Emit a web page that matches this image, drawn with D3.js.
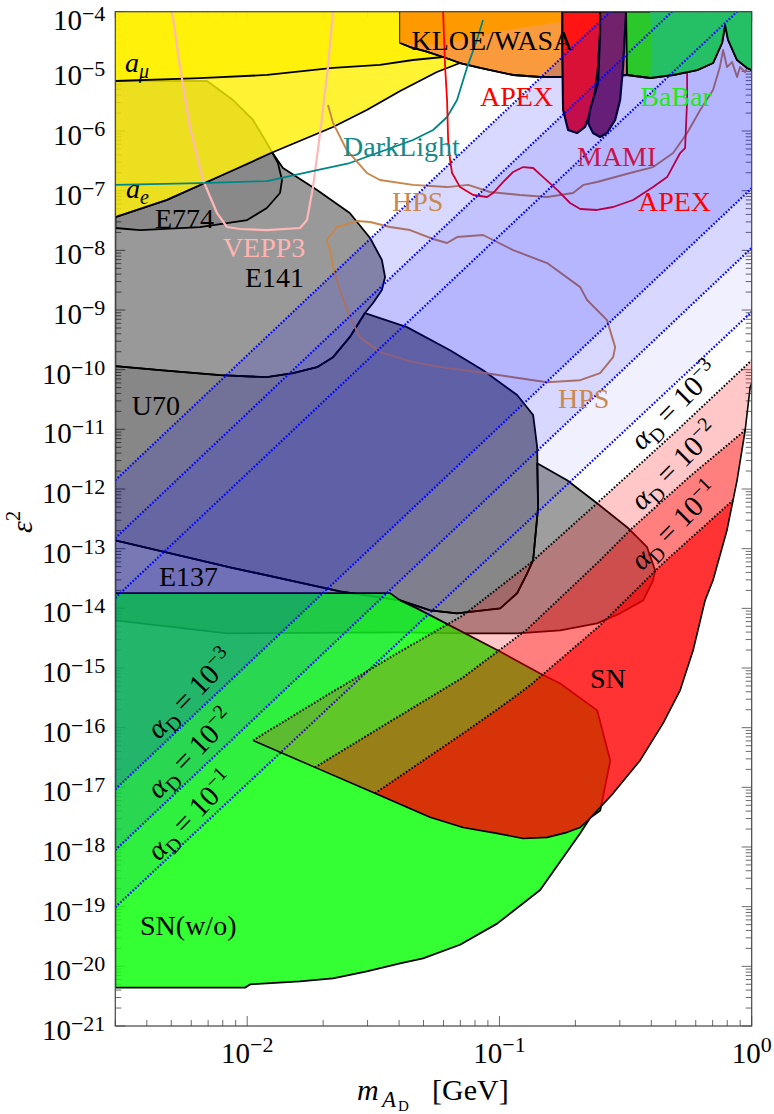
<!DOCTYPE html>
<html>
<head>
<meta charset="utf-8">
<script src="https://cdn.jsdelivr.net/npm/d3@7"></script>
<style>
	body { margin: 0; background: #fff; }
	text { font-family: "Liberation Serif", "Times New Roman", serif; }
</style>
</head>
<body>
<script>
const w = 774;
const h = 1114;
const plot = { left: 115.3, right: 751.7, top: 11.7, bottom: 1026 };

// all points are [m_AD in GeV, epsilon^2]
const amuLine = [[0.003, 6.9e-6], [6.5e-3, 7.7e-6], [0.012, 8.7e-6], [0.0219, 1.14e-5], [0.0336, 1.28e-5], [0.0454, 1.55e-5], [0.0598, 1.74e-5]];
const aeLine = [[0.003, 3.6e-8], [4.8e-3, 7.0e-8], [8.8e-3, 2.2e-7], [0.0127, 4.45e-7], [0.0219, 1.17e-6], [0.0298, 2.25e-6], [0.0404, 4.7e-6], [0.0565, 9.75e-6], [0.0698, 1.38e-5]];

const e141 = [[0.003, 6.9e-6], [6.93e-3, 6.9e-6], [8.79e-3, 3.31e-6], [0.01055, 1.53e-6], [0.01197, 6.3e-7], [0.01253, 4.45e-7], [0.01386, 2.4e-7], [0.01892, 1.03e-7], [0.0255, 4.23e-8], [0.0307, 1.61e-8], [0.0342, 6.88e-9], [0.0352, 3.57e-9], [0.0342, 2.16e-9], [0.03155, 1.31e-9], [0.0293, 8.9e-10], [0.0255, 3.51e-10], [0.0219, 1.62e-10], [0.01892, 1.1e-10], [0.0152, 8.73e-11], [0.01197, 7.48e-11], [7.8e-3, 8.08e-11], [4.51e-3, 9.8e-11], [0.003, 1.15e-10]];
const e774 = [[0.003, 3.62e-8], [4.82e-3, 6.98e-8], [8.79e-3, 2.22e-7], [0.01253, 4.45e-7], [0.01324, 2.91e-7], [0.01374, 1.51e-7], [0.01349, 9.14e-8], [0.01197, 5.13e-8], [0.01, 3.22e-8], [6.5e-3, 2.46e-8], [3.76e-3, 2.19e-8], [0.003, 2.37e-8]];
const u70 = [[0.003, 1.15e-10], [4.51e-3, 9.8e-11], [7.8e-3, 8.08e-11], [0.01197, 7.48e-11], [0.0152, 8.73e-11], [0.01892, 1.1e-10], [0.0219, 1.62e-10], [0.0255, 3.51e-10], [0.0293, 8.9e-10], [0.043, 5.17e-10], [0.0637, 2.12e-10], [0.0861, 9.8e-11], [0.1175, 3.76e-11], [0.136, 1.74e-11], [0.1411, 5.02e-12], [0.1423, 4.94e-13], [0.136, 6.4e-14], [0.1288, 3.87e-14], [0.1175, 1.79e-14], [0.1007, 1.0e-14], [0.0861, 9.27e-15], [0.0679, 8.26e-15], [0.0531, 9.27e-15], [0.0404, 1.36e-14], [0.0233, 1.93e-14], [8.55e-3, 4.88e-14], [0.003, 1.38e-13]];
const e137 = [[0.003, 1.38e-13], [8.55e-3, 4.88e-14], [0.0233, 1.93e-14], [0.0404, 1.36e-14], [0.0531, 9.27e-15], [0.0679, 8.26e-15], [0.0861, 9.27e-15], [0.1007, 1.0e-14], [0.1175, 1.79e-14], [0.1288, 3.87e-14], [0.136, 6.4e-14], [0.1423, 4.94e-13], [0.1411, 2.7e-12], [0.1854, 1.4e-12], [0.2437, 5.77e-13], [0.3206, 2.29e-13], [0.3849, 1.06e-13], [0.414, 4.35e-14], [0.4066, 2.95e-14], [0.3713, 1.36e-14], [0.3009, 8.26e-15], [0.2437, 5.61e-15], [0.1741, 4.28e-15], [0.1175, 3.81e-15], [0.0745, 3.81e-15], [0.0404, 3.96e-15], [8.32e-3, 3.81e-15], [0.003, 6.3e-15]];
const snWithout = [[0.003, 1.8e-14], [0.0368, 1.8e-14], [0.0404, 1.36e-14], [0.0471, 1.0e-14], [0.0979, 2.0e-15], [0.145, 8.1e-16], [0.174, 5.5e-16], [0.244, 1.95e-16], [0.275, 2.8e-17], [0.251, 4.1e-18], [0.229, 3.1e-18], [0.209, 1.7e-18], [0.145, 1.9e-19], [0.0979, 5.2e-20], [0.0698, 2.3e-20], [0.0498, 1.36e-20], [0.0404, 1.12e-20], [0.0298, 8.2e-21], [0.0219, 6.3e-21], [0.0162, 5.6e-21], [0.0103, 5.0e-21], [0.0098, 4.4e-21], [0.003, 4.4e-21]];

const kloe = [[0.0404, 1e-4], [0.0404, 2.99e-5], [0.0442, 2.56e-5], [0.0507, 2.19e-5], [0.0598, 1.74e-5], [0.0698, 1.38e-5], [0.0838, 1.14e-5], [0.1133, 8.69e-6], [0.1449, 8.04e-6], [0.1788, 8.04e-6], [0.2506, 8.04e-6], [0.3206, 8.69e-6], [0.3206, 1e-4]];
const wasa = [[0.0404, 1e-4], [0.0404, 2.99e-5], [0.0598, 2.77e-5], [0.0838, 4.07e-5], [0.1208, 5.33e-5], [0.1741, 6.71e-5], [0.2506, 8.8e-5], [0.2506, 1e-4]];
const apexRegion = [[0.1774, 1e-4], [0.1774, 2.28e-5], [0.1788, 2.25e-6], [0.1871, 1.04e-6], [0.203, 9.26e-7], [0.2185, 1.17e-6], [0.2286, 2.0e-6], [0.239, 4.34e-6], [0.246, 1.18e-5], [0.2506, 4.39e-5], [0.2506, 1e-4]];
const mamiRegion = [[0.2506, 1e-4], [0.2506, 4.39e-5], [0.246, 6.38e-6], [0.2286, 2.25e-6], [0.2245, 1.36e-6], [0.235, 9.26e-7], [0.2506, 7.94e-7], [0.267, 9.26e-7], [0.2875, 1.53e-6], [0.3009, 3.31e-6], [0.309, 1.18e-5], [0.3177, 1e-4]];
const babar = [[0.3177, 1e-4], [0.3206, 8.69e-6], [0.3956, 7.74e-6], [0.4881, 8.69e-6], [0.608, 1.05e-5], [0.7025, 1.38e-5], [0.7632, 2.99e-5], [0.7846, 5.99e-5], [0.806, 3.36e-5], [0.875, 1.55e-5], [0.959, 1.14e-5], [1.0, 1.05e-5], [1.0, 1e-4]];
const babarRight = [[0.3956, 1e-4], [0.403, 2.28e-5], [0.3956, 7.74e-6], [0.4881, 8.69e-6], [0.608, 1.05e-5], [0.7025, 1.38e-5], [0.7632, 2.99e-5], [0.7846, 5.99e-5], [0.806, 3.36e-5], [0.875, 1.55e-5], [0.959, 1.14e-5], [1.0, 1.05e-5], [1.0, 1e-4]];

const vepp3 = [[5.04e-3, 1e-4], [5.42e-3, 1.18e-5], [5.93e-3, 1.17e-6], [6.68e-3, 1.51e-7], [7.59e-3, 4.23e-8], [8.32e-3, 2.46e-8], [9.36e-3, 2.28e-8], [0.01197, 2.19e-8], [0.0162, 2.37e-8], [0.01726, 3.22e-8], [0.01823, 1.15e-7], [0.01945, 9.26e-7], [0.0209, 1.18e-5], [0.0219, 1e-4]];
const darkLight = [[0.003, 1.25e-7], [6.5e-3, 1.34e-7], [0.01197, 1.45e-7], [0.01892, 2.22e-7], [0.0255, 2.91e-7], [0.0336, 4.45e-7], [0.0454, 7.08e-7], [0.0546, 1.04e-6], [0.062, 1.72e-6], [0.0679, 3.31e-6], [0.0745, 1.18e-5], [0.0814, 3.36e-5], [0.0861, 7.26e-5]];
const hpsUpper = [[0.0209, 2.73e-6], [0.0219, 1.36e-6], [0.0248, 4.81e-7], [0.0298, 1.98e-7], [0.0336, 1.51e-7], [0.0454, 1.25e-7], [0.062, 1.15e-7], [0.0752, 1.25e-7], [0.0918, 9.5e-8], [0.1208, 8.47e-8], [0.1545, 7.84e-8], [0.1958, 9.14e-8], [0.215, 1.25e-7], [0.2437, 1.4e-7], [0.3296, 1.98e-7], [0.4066, 2.49e-7], [0.4881, 4.28e-7], [0.5546, 9.26e-7], [0.625, 2.25e-6], [0.7025, 4.87e-6], [0.748, 1.18e-5], [0.7703, 2.28e-5], [0.798, 1.18e-5], [0.836, 1.43e-5], [0.875, 8.04e-6], [0.899, 1.18e-5], [0.942, 9.75e-6], [0.986, 1.43e-5], [1.0, 1.55e-5]];
const hpsLower = [[0.0207, 1.49e-8], [0.0227, 2.46e-8], [0.0272, 3.1e-8], [0.0307, 2.99e-8], [0.0368, 2.46e-8], [0.0442, 2.19e-8], [0.0546, 1.55e-8], [0.062, 1.33e-8], [0.0679, 1.67e-8], [0.0861, 1.81e-8], [0.1133, 1.01e-8], [0.1545, 6.12e-9], [0.209, 2.42e-9], [0.2225, 1.47e-9], [0.267, 6.77e-10], [0.2875, 2.39e-10], [0.2823, 1.62e-10], [0.2506, 8.73e-11], [0.209, 6.66e-11], [0.1545, 6.17e-11], [0.1133, 7.48e-11], [0.0838, 9.08e-11], [0.062, 1.06e-10], [0.0454, 1.34e-10], [0.0336, 1.97e-10], [0.028, 3.51e-10], [0.0255, 7.6e-10], [0.0233, 2.16e-9], [0.0219, 5.25e-9], [0.0213, 1.01e-8], [0.0207, 1.49e-8]];
const apexLine = [[0.0598, 1e-4], [0.0609, 1.18e-5], [0.062, 3.31e-6], [0.0626, 7.08e-7], [0.0637, 3.27e-7], [0.0649, 1.98e-7], [0.0698, 1.15e-7], [0.0787, 8.47e-8], [0.0893, 7.84e-8], [0.0944, 9.14e-8], [0.1035, 1.4e-7], [0.1133, 2.06e-7], [0.1242, 2.49e-7], [0.136, 2.4e-7], [0.149, 1.69e-7], [0.1694, 1.03e-7], [0.1905, 6.22e-8], [0.209, 4.93e-8], [0.2437, 4.75e-8], [0.2823, 5.33e-8], [0.3388, 6.98e-8], [0.4066, 1.15e-7], [0.4621, 1.69e-7], [0.5203, 4.28e-7], [0.5445, 5.19e-7], [0.5546, 3.31e-6], [0.5546, 2.28e-5], [0.5546, 1e-4]];

// blue bands (alpha_D = 1e-3, 1e-2, 1e-1): upper and lower edges
const blueUpper = [[[0.003, 1.4e-12], [0.275, 1e-4]], [[0.003, 1.5e-13], [0.483, 1e-4]], [[0.003, 1.5e-14], [0.875, 1e-4]]];
const blueLower = [[[0.003, 9.3e-18], [1, 1.1e-7]], [[0.003, 8.9e-19], [1, 1.1e-8]], [[0.003, 9.8e-20], [1, 9.3e-10]]];
const blueOpacity = [0.15, 0.10, 0.06];

// SN bands
const snLower = [[0.01055, 6.13e-17], [0.01857, 2.16e-17], [0.0321, 7.93e-18], [0.0531, 3.14e-18], [0.0718, 2.13e-18], [0.0979, 1.69e-18], [0.1242, 1.39e-18], [0.1545, 1.45e-18], [0.1854, 1.76e-18], [0.209, 2.13e-18], [0.2245, 2.79e-18], [0.2823, 7.93e-18], [0.3612, 2.83e-17], [0.4452, 1.18e-16], [0.5203, 4.22e-16], [0.586, 1.98e-15], [0.6535, 1.36e-14], [0.7025, 2.95e-14], [0.798, 2.04e-13], [0.875, 1.4e-12], [0.942, 9.66e-12], [0.986, 5.08e-11], [1.0, 5.93e-11]];
const snTop = [
	[[0.01055, 6.13e-17], [0.0213, 3.76e-16], [0.0393, 1.76e-15], [0.0718, 7.64e-15], [0.1324, 5.7e-14], [0.2437, 5.77e-13], [0.497, 8.94e-12], [1.0, 1.44e-10]],
	[[0.01857, 2.16e-17], [0.0393, 1.49e-16], [0.0718, 6.97e-16], [0.1288, 4.45e-15], [0.2506, 6.4e-14], [0.3388, 2.29e-13], [0.5701, 1.64e-12], [0.942, 9.66e-12]],
	[[0.0321, 7.93e-18], [0.0718, 8.03e-17], [0.1007, 2.19e-16], [0.1324, 5.12e-16], [0.2506, 5.19e-15], [0.4452, 5.7e-14], [0.843, 6.48e-13]]
];
const snOpacity = [0.22, 0.36, 0.6];

const labels = [
	{ t: 'KLOE/WASA', at: [0.0448, 2.28e-5], c: '#000' },
	{ t: 'APEX', at: [0.0838, 2.62e-6], c: '#ff0000' },
	{ t: 'BaBar', at: [0.3612, 2.62e-6], c: '#22e622' },
	{ t: 'DarkLight', at: [0.024, 3.81e-7], c: '#168a8a' },
	{ t: 'MAMI', at: [0.203, 2.59e-7], c: '#c8144b' },
	{ t: 'HPS', at: [0.0375, 4.56e-8], c: '#c8894f' },
	{ t: 'APEX', at: [0.354, 4.56e-8], c: '#ff0000' },
	{ t: 'HPS', at: [0.1706, 2.28e-11], c: '#c8894f' },
	{ t: 'VEPP3', at: [8.01e-3, 7.73e-9], c: '#ffb4b4' },
	{ t: 'E774', at: [4.31e-3, 2.37e-8], c: '#000' },
	{ t: 'E141', at: [9.8e-3, 2.42e-9], c: '#000' },
	{ t: 'U70', at: [3.49e-3, 1.74e-11], c: '#000' },
	{ t: 'E137', at: [4.47e-3, 2.37e-14], c: '#000' },
	{ t: 'SN', at: [0.2286, 4.61e-16], c: '#000' },
	{ t: 'SN(w/o)', at: [3.76e-3, 3.33e-20], c: '#000' }
];
const alphaLabels = [
	{ exp: 3, at: [5.93e-3, 3.76e-16], rot: -46 },
	{ exp: 2, at: [5.93e-3, 3.76e-17], rot: -46 },
	{ exp: 1, at: [5.93e-3, 3.43e-18], rot: -46 },
	{ exp: 3, at: [0.492, 2.56e-11], rot: -45 },
	{ exp: 2, at: [0.492, 2.52e-12], rot: -45 },
	{ exp: 1, at: [0.492, 2.49e-13], rot: -45 }
];
const yExponents = d3.range(-21, -3);
const xExponents = [-2, -1, 0];

const x = d3.scaleLog().domain([0.003, 1]).range([plot.left, plot.right]);
const y = d3.scaleLog().domain([1e-21, 1e-4]).range([plot.bottom, plot.top]);
const [xMin, xMax] = x.domain();
const [yMin, yMax] = y.domain();

const line = d3.line().x(d => x(d[0])).y(d => y(d[1]));
const dots = '1.6 1.8';

const svg = d3.select('body').append('svg')
	.attr('width', w)
	.attr('height', h);

svg.append('defs').append('clipPath')
	.attr('id', 'plotclip')
	.append('rect')
	.attr('x', plot.left)
	.attr('y', plot.top)
	.attr('width', plot.right - plot.left)
	.attr('height', plot.bottom - plot.top);

// ticks, under the fills
const yMinor = [];
yExponents.slice(0, -1).forEach(k => d3.range(2, 10).forEach(j => yMinor.push(j * 10 ** k)));
const xMinor = [];
[-3, -2, -1].forEach(k => d3.range(2, 10).forEach(j => {
	const v = j * 10 ** k;
	if (v >= xMin) xMinor.push(v);
}));

const ticks = svg.append('g').attr('stroke', '#444').attr('stroke-width', 0.8);
const tickSet = (vals, len, vertical) => vals.forEach(v => {
	if (vertical) {
		ticks.append('line').attr('x1', plot.left).attr('x2', plot.left + len).attr('y1', y(v)).attr('y2', y(v));
		ticks.append('line').attr('x1', plot.right).attr('x2', plot.right - len).attr('y1', y(v)).attr('y2', y(v));
	} else {
		ticks.append('line').attr('y1', plot.bottom).attr('y2', plot.bottom - len).attr('x1', x(v)).attr('x2', x(v));
		ticks.append('line').attr('y1', plot.top).attr('y2', plot.top + len).attr('x1', x(v)).attr('x2', x(v));
	}
});
tickSet(yExponents.map(k => 10 ** k), 10, true);
tickSet(yMinor, 6, true);
tickSet(xExponents.map(k => 10 ** k), 10, false);
tickSet(xMinor, 6, false);

const g = svg.append('g').attr('clip-path', 'url(#plotclip)');

const region = (pts, fill, opacity, stroke, sw) => g.append('path')
	.attr('d', line(pts) + 'Z')
	.attr('fill', fill)
	.attr('fill-opacity', opacity)
	.attr('stroke', stroke || 'none')
	.attr('stroke-width', sw || 1.8)
	.attr('stroke-linejoin', 'round');

const curve = (pts, color, sw, dash) => g.append('path')
	.attr('d', line(pts))
	.attr('fill', 'none')
	.attr('stroke', color)
	.attr('stroke-width', sw)
	.attr('stroke-dasharray', dash || null)
	.attr('stroke-linejoin', 'round');

// beam dump regions
region(e137, '#000', 0.38, '#000');
region(u70, '#000', 0.47, '#000');
region(e141, '#000', 0.40, '#000');
region(e774, '#000', 0.10, '#000');

// SN without
region(snWithout, 'rgb(15,255,15)', 0.85, '#000');

// a_mu, a_e
region([[xMin, yMax]].concat(aeLine, [[aeLine[aeLine.length - 1][0], yMax]]), '#fff000', 0.8);
region([[xMin, yMax]].concat(amuLine, [[amuLine[amuLine.length - 1][0], yMax]]), '#fff000', 0.8);
curve(amuLine, '#000', 1.8);
curve(aeLine, '#000', 1.8);

// collider / fixed target
region(kloe, '#f99b3c', 1, '#000');
region(wasa, '#ff9900', 1);
curve(kloe.slice(1, -1), '#000', 1.8);
region(apexRegion, '#ff1414', 1, '#000', 2.2);
region(mamiRegion, '#862850', 1, '#000', 2.2);

curve(vepp3, '#ffb8b8', 2.2);
curve(darkLight, '#008585', 1.8);
curve(hpsUpper, '#c8864a', 1.9);
curve(hpsLower, '#c8864a', 1.9);
curve(apexLine, '#ff0000', 1.8);

// blue bands
blueUpper.forEach((u, i) => {
	const lo = blueLower[i];
	region([u[0], u[1], [xMax, yMax], lo[1], lo[0]], '#0000ff', blueOpacity[i]);
});

region(babar, '#2ac82a', 1, '#000');
region(babarRight, '#25c066', 1);
curve(babar.slice(1, -1), '#000', 1.8);

blueUpper.concat(blueLower).forEach(l => curve(l, '#0000ff', 2.2, dots));

// SN bands
snTop.forEach((top, i) => {
	const m0 = top[0][0];
	const m1 = top[top.length - 1][0];
	const low = snLower.filter(p => p[0] > m0 * 1.001 && p[0] <= m1 * 1.001).reverse();
	region(top.concat(low), '#ff0000', snOpacity[i]);
});
snTop.forEach(top => curve(top, '#000', 2, dots));
curve(snLower, '#000', 1.6);

// labels
svg.append('g').selectAll('text')
	.data(labels)
	.join('text')
	.attr('x', d => x(d.at[0]))
	.attr('y', d => y(d.at[1]))
	.attr('fill', d => d.c)
	.style('font-size', '28px')
	.text(d => d.t);

const amuText = svg.append('text').attr('x', x(3.28e-3)).attr('y', y(9.75e-6)).style('font-size', '28px');
amuText.append('tspan').style('font-style', 'italic').text('a');
amuText.append('tspan').attr('dy', 6).style('font-style', 'italic').style('font-size', '20px').text('μ');
const aeText = svg.append('text').attr('x', x(3.31e-3)).attr('y', y(7.54e-8)).style('font-size', '28px');
aeText.append('tspan').style('font-style', 'italic').text('a');
aeText.append('tspan').attr('dy', 6).style('font-style', 'italic').style('font-size', '20px').text('e');

alphaLabels.forEach(d => {
	const t = svg.append('text')
		.attr('transform', `translate(${x(d.at[0])},${y(d.at[1])}) rotate(${d.rot})`)
		.attr('text-anchor', 'middle')
		.attr('dy', '0.35em')
		.style('font-size', '29px');
	t.append('tspan').style('font-style', 'italic').text('α');
	t.append('tspan').attr('dy', 6).style('font-size', '20px').text('D');
	t.append('tspan').attr('dy', -6).text(' = 10');
	t.append('tspan').attr('dy', -11).style('font-size', '20px').text('−' + d.exp);
});

// frame
svg.append('rect')
	.attr('x', plot.left)
	.attr('y', plot.top)
	.attr('width', plot.right - plot.left)
	.attr('height', plot.bottom - plot.top)
	.attr('fill', 'none')
	.attr('stroke', '#444')
	.attr('stroke-width', 1.2);

// tick labels (top one nudged so it stays inside the page)
svg.append('g').selectAll('text')
	.data(yExponents)
	.join('text')
	.attr('x', plot.left - 10)
	.attr('y', k => Math.max(y(10 ** k) + 14, 30))
	.attr('text-anchor', 'end')
	.style('font-size', '29px')
	.call(t => {
		t.append('tspan').text('10');
		t.append('tspan').attr('dy', -9).style('font-size', '22px').text(k => '−' + (-k));
	});

svg.append('g').selectAll('text')
	.data(xExponents)
	.join('text')
	.attr('x', k => x(10 ** k))
	.attr('y', plot.bottom + 37)
	.attr('text-anchor', 'middle')
	.style('font-size', '29px')
	.call(t => {
		t.append('tspan').text('10');
		t.append('tspan').attr('dy', -11).style('font-size', '22px').text(k => k < 0 ? '−' + (-k) : '0');
	});

// axis titles
const xt = svg.append('text')
	.attr('y', 1100)
	.style('font-size', '30px');
xt.append('tspan').attr('x', 357).style('font-style', 'italic').text('m');
xt.append('tspan').attr('x', 382).attr('dy', 7).style('font-style', 'italic').style('font-size', '23px').text('A');
xt.append('tspan').attr('x', 398).attr('dy', 4).style('font-size', '15px').text('D');
xt.append('tspan').attr('x', 432).attr('dy', -11).text('[GeV]');

const yt = svg.append('text')
	.attr('transform', `translate(32,${(plot.top + plot.bottom) / 2 + 3}) rotate(-90)`)
	.attr('text-anchor', 'middle')
	.style('font-size', '30px');
yt.append('tspan').style('font-style', 'italic').text('ε');
yt.append('tspan').attr('dy', -12).style('font-size', '21px').text('2');
</script>
</body>
</html>
